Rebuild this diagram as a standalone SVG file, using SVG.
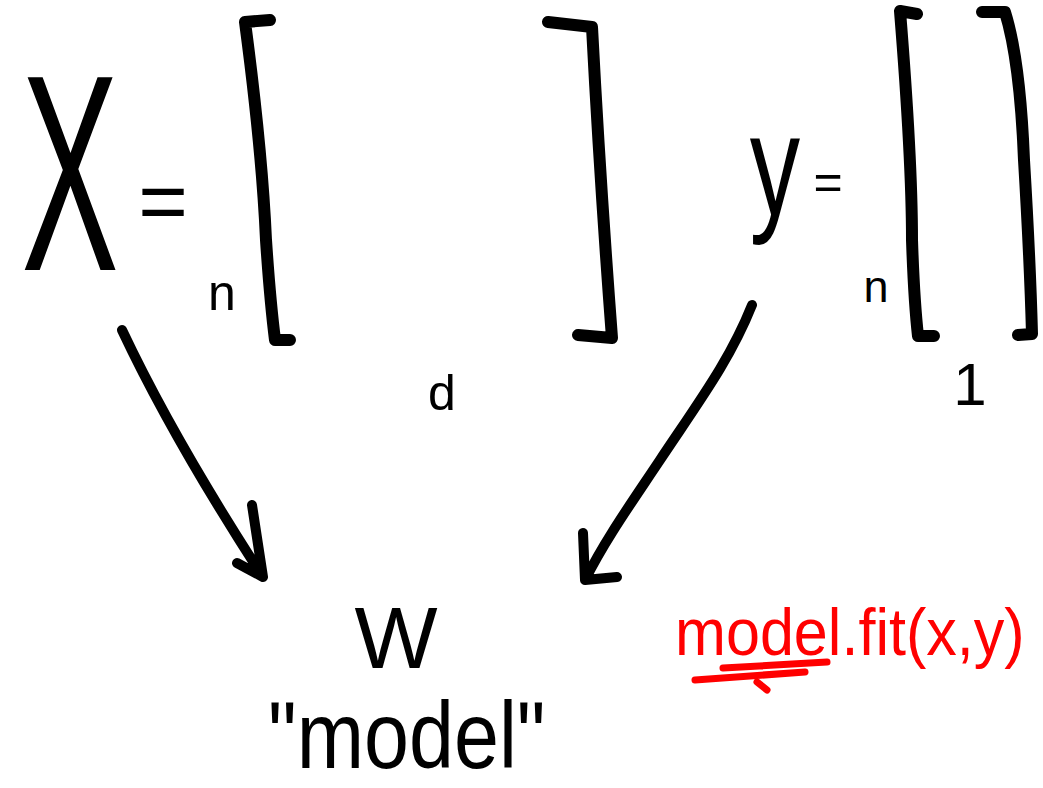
<svg xmlns="http://www.w3.org/2000/svg" width="1043" height="788" viewBox="0 0 1043 788">
<style>
.ink{fill:none;stroke:#000;stroke-width:12;stroke-linecap:round;stroke-linejoin:round}
.arr{fill:none;stroke:#000;stroke-width:10;stroke-linecap:round;stroke-linejoin:round}
.red{fill:none;stroke:#ff0000;stroke-width:7;stroke-linecap:round;stroke-linejoin:round}
.t{font-family:"Liberation Sans",Arial,sans-serif;fill:#000}
.rt{font-family:"Liberation Sans",Arial,sans-serif;fill:#ff0000}
</style>
<rect width="1043" height="788" fill="#fff"/>
<g id="X-matrix">
<text class="t" x="0" y="0" font-size="280" text-anchor="middle" transform="translate(70,270) scale(0.52,1)">X</text>
<text class="t" x="163" y="230" font-size="85" text-anchor="middle">=</text>
<text class="t" x="222" y="310" font-size="50" text-anchor="middle">n</text>
<path class="ink" d="M270,20 L245,22 Q262,150 266,240 Q270,300 275,340 L290,340"/>
<path class="ink" d="M548,22 L592,27 Q600,180 612,338 L578,335"/>
<text class="t" x="442" y="410" font-size="50" text-anchor="middle">d</text>
</g>
<g id="y-vector">
<text class="t" x="0" y="0" font-size="144" text-anchor="middle" transform="translate(775,215) scale(0.7,1)">y</text>
<text class="t" x="828" y="199" font-size="50" text-anchor="middle">=</text>
<text class="t" x="876" y="302" font-size="45" text-anchor="middle">n</text>
<path class="ink" d="M917,14 L900,11 Q912,160 912,240 Q914,300 918,336 L934,336"/>
<path class="ink" d="M982,12 L1005,12 Q1020,60 1024,160 Q1030,260 1032,334 L1018,335"/>
<text class="t" x="970" y="405" font-size="60" text-anchor="middle">1</text>
</g>
<g id="W-model">
<text class="t" x="396" y="668" font-size="88" text-anchor="middle">W</text>
<text class="t" x="0" y="0" font-size="94" transform="translate(268,768) scale(0.86,1)">"model"</text>
</g>
<g id="fit-note">
<text class="rt" x="0" y="0" font-size="66" transform="translate(675,655) scale(0.926,1)">model.fit(x,y)</text>
<path class="red" d="M695,680 L805,672 M723,668 L827,662 M757,682 L767,690"/>
</g>
<g id="connectors">
<path class="arr" d="M122,330 C155,400 200,480 263,577 M252,505 L263,577 L237,563"/>
<path class="arr" d="M752,305 C730,360 700,400 660,460 C630,505 605,540 585,580 M583,533 L585,580 L617,577"/>
</g>
</svg>
